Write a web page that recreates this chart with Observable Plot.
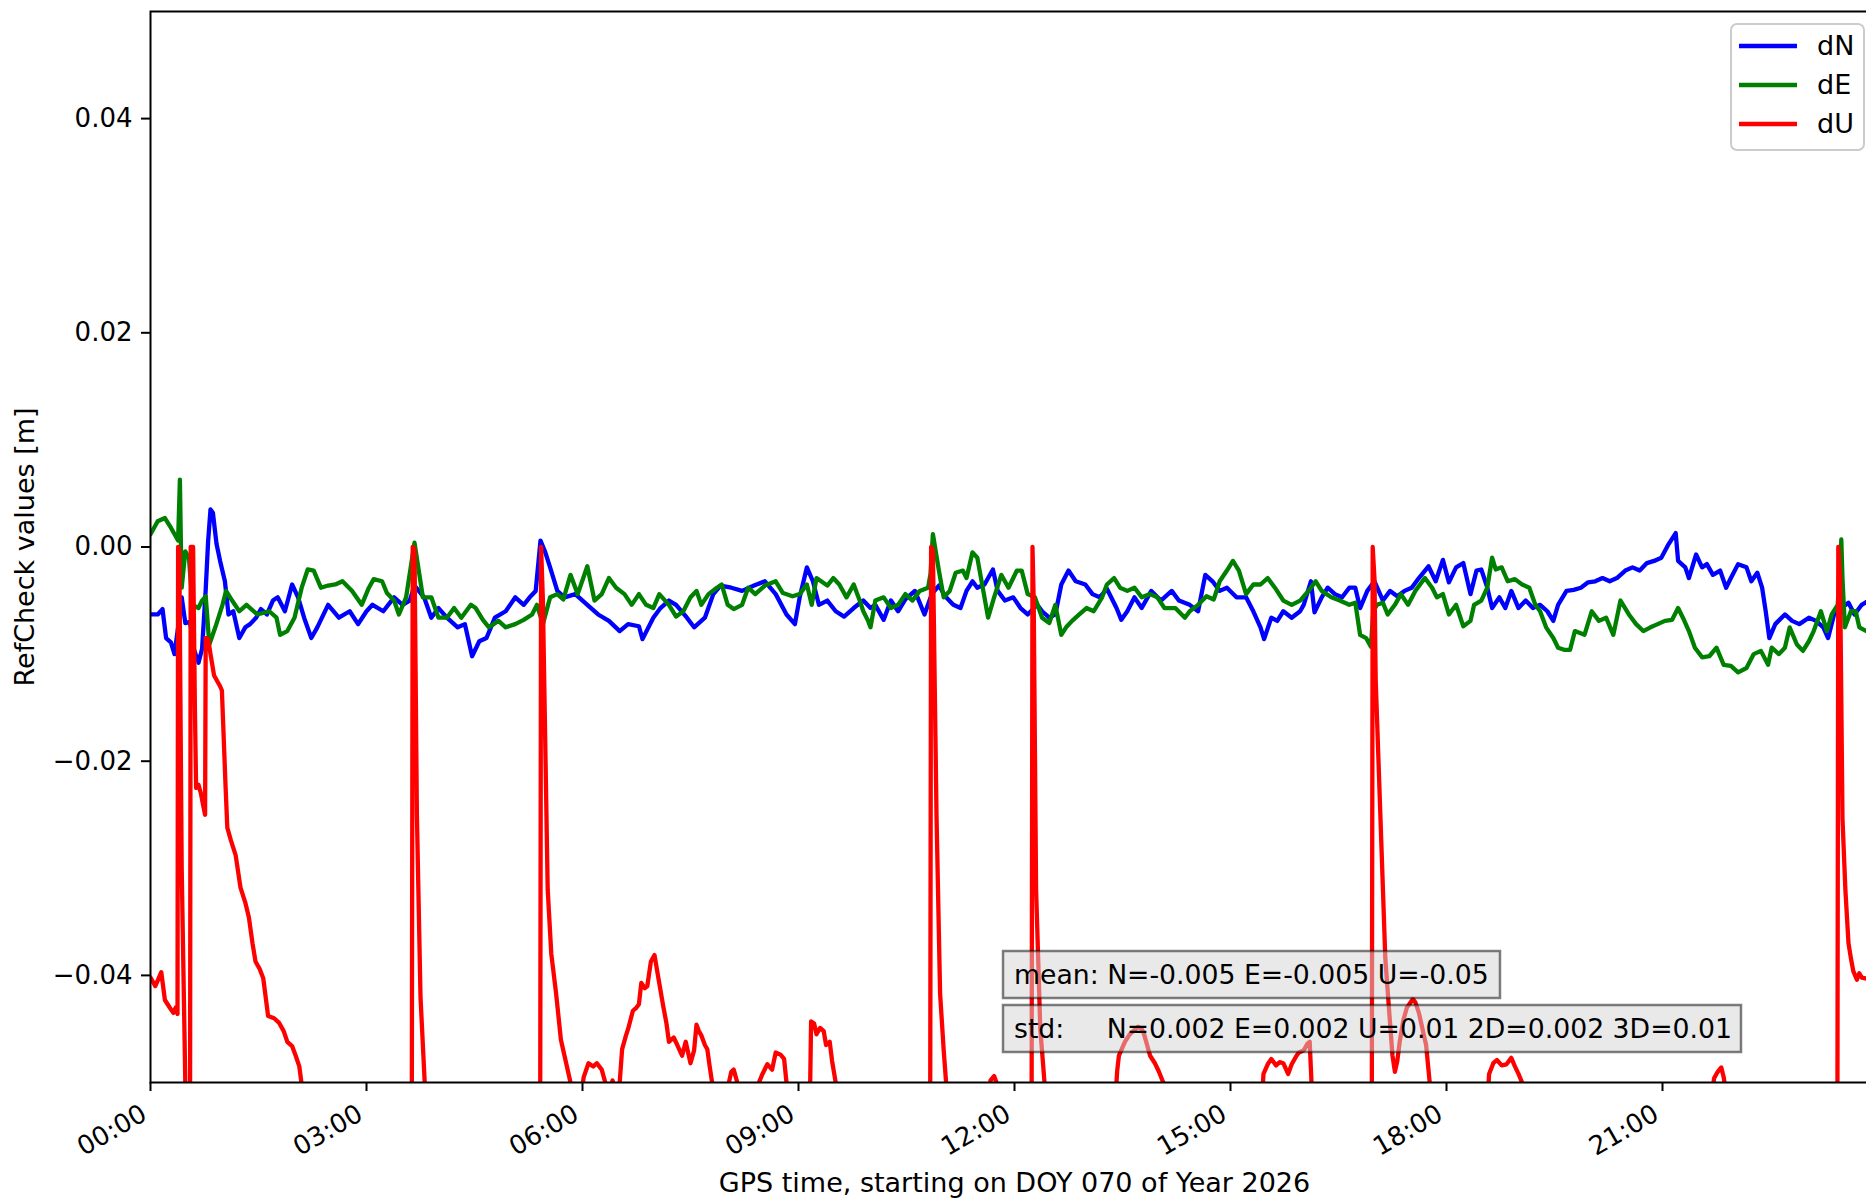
<!DOCTYPE html>
<html><head><meta charset="utf-8">
<script src="https://cdn.jsdelivr.net/npm/d3@7"></script>
<script src="https://cdn.jsdelivr.net/npm/@observablehq/plot@0.6"></script>
<style>
html,body{margin:0;padding:0;background:#fff;overflow:hidden;}
#chart{width:1878px;height:1201px;}
</style></head><body><div id="chart"></div>
<script>
// GPS day: DOY 070 of 2026 = 11 March 2026
const dayStart = Date.UTC(2026, 2, 11);
const tickHours = [0, 3, 6, 9, 12, 15, 18, 21];
const yTicks = [-0.04, -0.02, 0, 0.02, 0.04];
const seriesNames = ["dN", "dE", "dU"];
const seriesColors = ["#0000ff", "#008000", "#ff0000"];
const xLabel = "GPS time, starting on DOY 070 of Year 2026";
const yLabel = "RefCheck values [m]";
const meanText = "mean: N=-0.005 E=-0.005 U=-0.05";
const stdText = "std:     N=0.002 E=0.002 U=0.01 2D=0.002 3D=0.01";

// [minutes after 00:00, value in millimetres]
const dN_mm = [[0,-6.3],[6,-6.3],[10,-5.8],[13,-8.5],[17,-8.9],[20,-10.0],[23,-7.5],[26,-4.7],[29,-7.1],[33,-7.0],[36,-9.5],[40,-10.8],[43,-9.5],[46,-4.0],[48,0.5],[50,3.5],[52,3.2],[55,0.3],[58,-1.3],[62,-3.2],[65,-6.3],[69,-6.0],[74,-8.5],[79,-7.5],[83,-7.2],[88,-6.6],[92,-5.8],[97,-6.3],[102,-5.0],[106,-4.7],[112,-6.0],[118,-3.5],[123,-4.7],[128,-6.6],[134,-8.5],[139,-7.5],[148,-5.4],[157,-6.6],[166,-6.0],[173,-7.2],[180,-6.0],[185,-5.4],[194,-6.0],[203,-4.7],[210,-5.4],[216,-5.0],[220,-3.6],[228,-4.7],[234,-6.6],[240,-5.7],[247,-6.6],[256,-7.5],[262,-7.2],[268,-10.2],[274,-8.8],[280,-8.5],[287,-6.6],[296,-6.0],[304,-4.7],[311,-5.4],[316,-4.7],[321,-4.1],[325,0.6],[329,-0.5],[333,-1.9],[339,-4.1],[345,-4.7],[354,-4.4],[364,-5.4],[373,-6.3],[382,-6.9],[391,-7.85],[398,-7.2],[407,-7.4],[410,-8.6],[419,-6.6],[425,-5.7],[432,-5.0],[438,-5.4],[447,-6.6],[453,-7.5],[462,-6.6],[469,-4.4],[475,-3.6],[484,-3.8],[493,-4.1],[503,-3.6],[512,-3.2],[521,-4.4],[530,-6.3],[537,-7.2],[541,-4.7],[547,-1.9],[552,-3.2],[557,-5.4],[564,-5.0],[571,-6.0],[578,-6.5],[586,-5.7],[594,-5.0],[600,-5.7],[604,-5.4],[611,-6.8],[617,-5.0],[623,-6.0],[629,-4.9],[637,-4.1],[645,-6.3],[651,-4.4],[657,-3.6],[663,-4.7],[669,-5.4],[675,-5.7],[680,-4.1],[685,-3.2],[689,-3.8],[695,-3.5],[702,-2.1],[706,-4.1],[712,-5.0],[719,-4.7],[725,-5.7],[731,-6.3],[739,-5.4],[743,-6.0],[749,-6.6],[754,-6.3],[759,-3.5],[765,-2.2],[771,-3.2],[779,-3.5],[785,-4.4],[791,-4.7],[797,-3.9],[805,-5.7],[809,-6.8],[814,-6.0],[820,-4.7],[826,-5.7],[834,-4.1],[842,-5.0],[851,-4.1],[857,-5.0],[866,-5.4],[873,-6.0],[879,-2.6],[885,-3.2],[891,-4.1],[897,-3.8],[905,-4.7],[913,-4.7],[919,-6.0],[925,-7.5],[928,-8.6],[934,-6.6],[939,-6.9],[944,-6.0],[951,-6.6],[958,-6.0],[961,-5.4],[967,-3.2],[970,-6.1],[976,-4.7],[981,-3.8],[987,-4.4],[993,-4.7],[999,-3.8],[1004,-3.8],[1008,-5.7],[1014,-4.1],[1020,-3.2],[1027,-5.0],[1033,-4.1],[1039,-4.6],[1045,-4.1],[1051,-3.8],[1057,-2.9],[1065,-1.8],[1071,-3.2],[1077,-1.2],[1082,-3.3],[1088,-1.9],[1094,-1.5],[1100,-4.4],[1105,-2.2],[1109,-2.1],[1114,-3.8],[1118,-5.7],[1124,-4.7],[1129,-5.7],[1134,-4.1],[1140,-5.7],[1146,-5.0],[1152,-5.7],[1158,-5.4],[1164,-6.0],[1169,-6.9],[1173,-5.4],[1180,-4.1],[1186,-4.0],[1192,-3.8],[1198,-3.3],[1204,-3.2],[1210,-2.9],[1216,-3.2],[1222,-2.9],[1229,-2.2],[1235,-1.9],[1241,-2.2],[1247,-1.5],[1253,-1.3],[1259,-1.0],[1265,0.25],[1271,1.3],[1273,-1.3],[1279,-1.9],[1282,-2.9],[1288,-0.7],[1293,-1.9],[1297,-1.6],[1302,-2.6],[1308,-2.2],[1313,-3.8],[1317,-2.9],[1323,-1.6],[1330,-1.9],[1334,-3.2],[1339,-2.4],[1343,-3.8],[1346,-6.0],[1349,-8.5],[1354,-7.2],[1362,-6.3],[1368,-6.9],[1374,-7.2],[1382,-6.6],[1388,-6.9],[1394,-7.5],[1398,-8.5],[1403,-6.3],[1409,-5.7],[1415,-5.2],[1420,-6.3],[1426,-5.4],[1432,-5.0],[1440,-5.2]];

const dE_mm = [[0,1.2],[6,2.4],[12,2.7],[17,1.8],[23,0.6],[24.5,6.3],[25.5,-1.0],[26,-3.8],[29,-0.4],[32,-1.0],[35,-5.4],[40,-5.7],[43,-5.0],[46,-4.6],[49,-9.1],[54,-7.5],[60,-5.4],[63,-4.1],[68,-5.0],[74,-6.0],[80,-5.4],[89,-6.3],[99,-6.0],[105,-6.6],[108,-8.2],[114,-7.85],[120,-6.6],[126,-3.8],[131,-2.1],[136,-2.2],[142,-3.8],[148,-3.6],[154,-3.5],[160,-3.2],[168,-4.1],[176,-5.4],[182,-3.8],[186,-3.0],[193,-3.2],[197,-4.3],[203,-5.0],[207,-6.3],[213,-4.7],[220,0.4],[227,-4.7],[234,-4.7],[240,-6.6],[247,-6.6],[253,-5.7],[259,-6.6],[267,-5.4],[271,-5.7],[277,-6.8],[282,-7.5],[290,-6.9],[296,-7.5],[304,-7.2],[311,-6.8],[318,-6.3],[322,-5.4],[327,-7.2],[333,-4.7],[339,-4.4],[344,-4.9],[350,-2.6],[356,-4.4],[364,-1.8],[370,-5.0],[376,-4.4],[382,-2.9],[388,-3.8],[395,-4.4],[401,-5.4],[407,-4.4],[413,-5.4],[419,-5.7],[424,-4.4],[432,-5.4],[438,-6.5],[444,-6.0],[450,-4.7],[455,-4.1],[459,-5.4],[465,-4.4],[472,-3.8],[476,-3.5],[481,-5.4],[486,-5.8],[493,-5.4],[498,-3.8],[504,-4.4],[512,-3.6],[521,-3.2],[527,-4.3],[535,-4.6],[541,-4.4],[547,-3.5],[551,-5.4],[555,-2.9],[564,-3.6],[569,-2.9],[574,-3.5],[580,-4.7],[586,-3.5],[591,-5.0],[594,-6.0],[598,-6.9],[600,-7.5],[604,-5.0],[611,-4.7],[617,-5.7],[623,-5.4],[629,-4.4],[635,-5.0],[641,-4.1],[648,-3.8],[650,-2.5],[652,1.2],[657,-2.2],[661,-4.7],[666,-4.1],[671,-2.4],[677,-2.2],[680,-2.9],[685,-0.5],[689,-1.0],[694,-4.1],[698,-6.6],[703,-4.7],[709,-2.6],[715,-3.8],[722,-2.2],[726,-2.2],[731,-4.4],[737,-4.7],[743,-6.6],[749,-7.1],[754,-5.4],[759,-8.2],[763,-7.5],[768,-6.9],[774,-6.3],[780,-5.7],[786,-6.0],[793,-4.7],[797,-3.5],[803,-2.9],[808,-3.8],[814,-4.1],[820,-3.8],[826,-4.7],[833,-4.4],[839,-4.7],[845,-5.7],[854,-5.7],[862,-6.6],[866,-6.0],[873,-5.4],[880,-4.6],[886,-4.9],[891,-3.2],[897,-2.2],[902,-1.3],[907,-2.2],[913,-4.4],[919,-3.5],[925,-3.5],[931,-2.9],[937,-3.8],[944,-5.0],[951,-5.4],[958,-5.0],[965,-4.1],[971,-3.2],[976,-4.1],[984,-4.7],[991,-5.0],[999,-5.4],[1004,-5.2],[1008,-8.2],[1013,-8.5],[1017,-9.3],[1019,-6.0],[1022,-5.4],[1027,-5.2],[1031,-6.3],[1037,-5.4],[1042,-4.4],[1048,-5.4],[1054,-4.1],[1062,-2.9],[1068,-3.8],[1072,-4.7],[1077,-4.4],[1082,-6.3],[1088,-5.4],[1094,-7.4],[1100,-6.9],[1103,-5.4],[1109,-5.0],[1114,-3.8],[1118,-1.0],[1121,-2.1],[1126,-1.9],[1131,-3.2],[1137,-3.0],[1143,-3.5],[1149,-3.8],[1154,-5.4],[1158,-6.0],[1163,-7.5],[1169,-8.5],[1173,-9.4],[1178,-9.6],[1183,-9.6],[1187,-7.85],[1195,-8.2],[1201,-6.0],[1207,-6.9],[1213,-6.6],[1219,-8.2],[1225,-5.0],[1232,-6.3],[1238,-7.2],[1244,-7.85],[1250,-7.5],[1256,-7.2],[1262,-6.9],[1268,-6.8],[1273,-5.7],[1277,-6.6],[1282,-7.85],[1287,-9.4],[1293,-10.3],[1299,-10.2],[1305,-9.4],[1311,-11.0],[1317,-11.1],[1323,-11.7],[1330,-11.3],[1336,-10.0],[1342,-9.7],[1348,-11.0],[1351,-9.4],[1357,-10.0],[1362,-9.4],[1366,-7.5],[1372,-9.1],[1377,-9.7],[1382,-8.8],[1386,-7.85],[1392,-6.0],[1397,-7.85],[1401,-6.3],[1406,-5.4],[1408,-2.0],[1409,0.7],[1410,-3.0],[1412,-7.5],[1417,-6.0],[1421,-6.0],[1424,-7.5],[1430,-7.85],[1440,-7.5]];

const dU_mm = [[0,-40.2],[4,-41],[9,-39.7],[12,-42.3],[16,-43.0],[19,-43.5],[21,-43.0],[22.5,-43.6],[23,0],[24,-0.3],[26,-30],[29,-50],[30,-60],[32,-70],[33,-50],[33.5,0],[35.5,0],[37,-15],[38,-22.5],[40,-22.2],[42,-23],[44,-24.2],[45.5,-25],[46,-8.5],[48,-8.6],[50,-10],[53,-12],[56,-12.6],[58,-13],[59.5,-13.4],[61,-17.8],[62.5,-22.2],[64,-26.2],[67,-27.4],[71,-28.8],[75,-31.8],[79,-33.2],[82,-34.6],[85,-37],[87.5,-38.7],[91,-39.4],[94,-40.3],[98,-43.8],[103,-44],[107,-44.4],[111,-45.2],[114,-46.2],[118,-46.6],[121,-47.5],[124,-48.5],[126,-50.2],[130,-56],[150,-70],[200,-75],[217.5,-70],[218.5,0],[220,-0.2],[222,-25],[225,-42],[228.5,-50],[231,-58],[260,-72],[300,-75],[324.5,-70],[325.5,0],[327,-5],[331,-32],[334,-38],[338,-41.7],[342,-46],[345,-47.5],[350,-50],[353,-56],[358,-52],[361,-49.5],[365,-48.2],[369,-48.5],[372,-48.2],[376,-48.8],[379,-50],[382,-52],[385,-49.8],[388,-51],[391,-50],[393,-46.9],[396,-45.7],[398,-45],[402,-43.3],[405,-43],[407,-42.7],[409,-40.7],[412,-41.2],[414,-41.0],[417,-38.7],[420,-38.1],[423,-40.1],[427,-42.7],[430,-44.5],[432,-46.2],[436,-45.8],[439,-46.5],[443,-47.5],[446,-46.2],[450,-48.2],[453,-47],[455,-44.6],[457,-45.2],[459,-45.6],[462,-46.5],[464,-46.9],[466,-48.5],[468,-50],[471,-54],[478,-53],[482,-50],[484,-49],[486,-48.8],[489,-50],[492,-54],[500,-55],[507,-50],[510,-49.2],[514,-48.3],[518,-48.8],[521,-47.2],[525,-47.4],[528,-47.8],[530,-50],[533,-55],[545,-56],[549.5,-52],[550.5,-44.3],[553,-44.5],[555,-45.5],[558,-44.9],[561,-45.2],[563,-46.5],[566,-46.2],[568,-48],[571,-50],[574,-55],[600,-65],[649.5,-70],[650.5,0],[652,-0.3],[655,-25],[658,-41.7],[661,-47],[663,-50],[666,-58],[690,-60],[698,-52],[700,-49.8],[703,-49.4],[706,-50.3],[708,-52],[720,-65],[734,-70],[735,0],[736,-5],[738,-32],[741.5,-45],[745,-50],[748,-58],[790,-60],[804,-52],[805.5,-49],[807,-47.5],[812,-46.2],[816,-45.5],[819,-45.2],[823,-44.8],[826,-45],[828,-45.5],[833,-47.5],[837,-48.2],[840,-48.9],[844,-50],[848,-56],[900,-58],[926,-52],[927.5,-49.2],[931,-48.3],[934,-47.8],[938,-48.4],[941,-48.1],[944,-48.2],[948,-49.2],[951,-48.3],[955,-47.5],[957,-47.2],[961,-47.0],[964,-46.4],[966,-46.2],[967.5,-50],[970,-58],[1000,-65],[1017.5,-70],[1018.5,0],[1020,-3],[1021,-12.4],[1025,-25.4],[1029,-38.4],[1032,-43],[1035,-47.5],[1037,-49],[1039,-48],[1041,-46.2],[1044,-44.2],[1047,-43],[1049,-42.7],[1052,-42.2],[1054,-42.5],[1057,-43.5],[1060,-45],[1063,-46.5],[1066,-50],[1069,-58],[1100,-60],[1114,-52],[1115.5,-49.2],[1119,-48.2],[1122,-47.9],[1126,-48.4],[1130,-48.3],[1134,-47.7],[1137,-48.5],[1140,-49.2],[1143,-50],[1146,-55],[1200,-60],[1300,-52],[1303,-49.6],[1306,-49],[1309,-48.6],[1311,-49.5],[1313,-51],[1320,-58],[1380,-65],[1405.5,-70],[1406.5,0],[1408,-3],[1410,-25.4],[1412.4,-32],[1415,-37],[1417,-38.4],[1419,-39.6],[1422,-40.4],[1424,-39.8],[1426,-40.2],[1430,-40.3],[1440,-40.5]];

const seriesData = [dN_mm, dE_mm, dU_mm];
const rows = seriesData.map((arr, i) => arr.map(([m, v]) => ({
  time: new Date(dayStart + m * 60000), value: v / 1000, series: seriesNames[i]
})));
const tickDates = tickHours.map(h => new Date(dayStart + h * 3600000));
const fmtTime = d3.utcFormat("%H:%M");

const W = 1878, H = 1201;
const FONT = "'DejaVu Sans', 'Liberation Sans', sans-serif";
const LW = 4.3;
const plot = Plot.plot({
  width: W, height: H,
  marginLeft: 150, marginRight: 0, marginTop: 11, marginBottom: 119,
  style: {fontFamily: FONT, fontSize: "26px", background: "#fff", color: "#000"},
  x: {type: "utc", domain: [new Date(dayStart), new Date(dayStart + 24 * 3600000)], label: null},
  y: {domain: [-0.05, 0.05], label: null},
  marks: [
    ...rows.map((r, i) => Plot.line(r, {x: "time", y: "value", stroke: seriesColors[i], strokeWidth: LW, clip: true})),
    Plot.axisY({ticks: yTicks, tickFormat: d3.format(".2f"), tickSize: 9, tickPadding: 9, strokeWidth: 2, fontSize: 26, label: null}),
    Plot.axisX({ticks: tickDates, tickSize: 9, strokeWidth: 2, tickFormat: () => "", label: null}),
    Plot.text(tickDates, {x: d => d, text: d => fmtTime(d), frameAnchor: "bottom", rotate: -30, textAnchor: "end", lineAnchor: "middle", dx: -6, dy: 29, fontSize: 26}),
    Plot.text([xLabel], {text: d => d, frameAnchor: "bottom", textAnchor: "middle", dy: 101, lineAnchor: "middle", fontSize: 27}),
    Plot.text([yLabel], {text: d => d, frameAnchor: "left", textAnchor: "middle", lineAnchor: "middle", rotate: -90, dx: -125, fontSize: 27}),
    Plot.frame({stroke: "#000", strokeWidth: 2})
  ]
});
document.getElementById("chart").appendChild(plot);

// statistics boxes and legend drawn on top of the plot
const svg = d3.select(plot);
const stats = [
  {text: meanText, x: 1003, y: 951, w: 497, h: 47},
  {text: stdText, x: 1003, y: 1005, w: 738, h: 47}
];
stats.forEach(s => {
  svg.append("rect").attr("x", s.x).attr("y", s.y).attr("width", s.w).attr("height", s.h)
    .attr("fill", "#d3d3d3").attr("fill-opacity", 0.5)
    .attr("stroke", "#000").attr("stroke-opacity", 0.5).attr("stroke-width", 2.5);
  svg.append("text").attr("x", s.x + 11).attr("y", s.y + s.h / 2)
    .attr("dy", "0.35em").attr("font-size", 26.7).attr("font-family", FONT)
    .attr("text-anchor", "start")
    .attr("fill", "#000").style("white-space", "pre").text(s.text);
});
const leg = svg.append("g");
leg.append("rect").attr("x", 1731).attr("y", 24).attr("width", 133).attr("height", 126).attr("rx", 6)
  .attr("fill", "#fff").attr("fill-opacity", 0.8).attr("stroke", "#cccccc").attr("stroke-width", 2);
seriesNames.forEach((n, i) => {
  const y = 46 + i * 39;
  leg.append("line").attr("x1", 1739).attr("x2", 1797).attr("y1", y).attr("y2", y)
    .attr("stroke", seriesColors[i]).attr("stroke-width", LW);
  leg.append("text").attr("x", 1817).attr("y", y).attr("dy", "0.35em").attr("font-size", 27)
    .attr("text-anchor", "start")
    .attr("font-family", FONT).attr("fill", "#000").text(n);
});
</script>
</body></html>
